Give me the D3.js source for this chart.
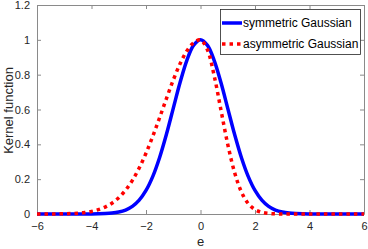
<!DOCTYPE html>
<html>
<head>
<meta charset="utf-8">
<script src="https://cdn.jsdelivr.net/npm/d3@7"></script>
<style>
  body { margin: 0; background: #fff; }
  svg { display: block; font-family: "Liberation Sans", Arial, sans-serif; }
</style>
</head>
<body>
<svg id="chart" width="368" height="249"></svg>
<script>
// kernel functions, e = -6 .. 6 in steps of 0.25
const eValues = d3.range(-6, 6.001, 0.25);

const symmetricGaussian = [
  0, 0, 0, 0, 0, 0, 0,
  0.0001, 0.0003, 0.0009, 0.0022, 0.0051, 0.0111, 0.0228, 0.0439, 0.0796,
  0.1353, 0.2163, 0.3247, 0.4578, 0.6065, 0.7548, 0.8825, 0.9692,
  1,
  0.9692, 0.8825, 0.7548, 0.6065, 0.4578, 0.3247, 0.2163, 0.1353,
  0.0796, 0.0439, 0.0228, 0.0111, 0.0051, 0.0022, 0.0009, 0.0003, 0.0001,
  0, 0, 0, 0, 0, 0, 0
];

const asymmetricGaussian = [
  0.0001, 0.0002, 0.0003, 0.0007, 0.0014, 0.0026, 0.0048, 0.0086, 0.0148, 0.0247,
  0.0398, 0.0620, 0.0936, 0.1367, 0.1931, 0.2639, 0.3490, 0.4467, 0.5532, 0.6629,
  0.7686, 0.8624, 0.9363, 0.9837,
  1,
  0.9444, 0.7953, 0.5974, 0.4001, 0.2390, 0.1273, 0.0605, 0.0256, 0.0097, 0.0033,
  0.0010, 0.0003, 0.0001,
  0, 0, 0, 0, 0, 0, 0, 0, 0, 0, 0
];

const xTicks = [-6, -4, -2, 0, 2, 4, 6];
const yTicks = [0, 0.2, 0.4, 0.6, 0.8, 1, 1.2];
const seriesNames = ["symmetric Gaussian", "asymmetric Gaussian"];

const margin = { top: 5, right: 4, bottom: 35, left: 37 };
const width = 368, height = 249;
const innerWidth = width - margin.left - margin.right;
const innerHeight = height - margin.top - margin.bottom;

const svg = d3.select("#chart");
const g = svg.append("g")
  .attr("transform", `translate(${margin.left},${margin.top})`);

const x = d3.scaleLinear().domain([-6, 6]).range([0, innerWidth]);
const y = d3.scaleLinear().domain([0, 1.2]).range([innerHeight, 0]);

const axisColor = "#8a8a8a";
const textColor = "#262626";

// axes (MATLAB style, ticks inside, box on)
function styleAxis(sel, showLabels) {
  sel.select(".domain").attr("stroke", axisColor).attr("stroke-width", 1);
  sel.selectAll(".tick line").attr("stroke", axisColor);
  if (showLabels) {
    sel.selectAll(".tick text")
      .attr("fill", textColor)
      .style("font-size", "11px");
  } else {
    sel.selectAll(".tick text").remove();
  }
}

g.append("g")
  .attr("transform", `translate(0,${innerHeight})`)
  .call(d3.axisBottom(x).tickValues(xTicks).tickSize(-4).tickPadding(8).tickSizeOuter(0))
  .call(s => styleAxis(s, true));

g.append("g")
  .call(d3.axisTop(x).tickValues(xTicks).tickSize(-4).tickSizeOuter(0))
  .call(s => styleAxis(s, false));

g.append("g")
  .call(d3.axisLeft(y).tickValues(yTicks).tickSize(-4).tickPadding(7).tickSizeOuter(0)
    .tickFormat(d3.format("~g")))
  .call(s => styleAxis(s, true));

g.append("g")
  .attr("transform", `translate(${innerWidth},0)`)
  .call(d3.axisRight(y).tickValues(yTicks).tickSize(-4).tickSizeOuter(0))
  .call(s => styleAxis(s, false));

// axis labels
svg.append("text")
  .attr("x", margin.left + innerWidth / 2)
  .attr("y", 246)
  .attr("text-anchor", "middle")
  .attr("fill", textColor)
  .style("font-size", "13px")
  .text("e");

svg.append("text")
  .attr("transform", `translate(13,${margin.top + innerHeight / 2 + 1}) rotate(-90)`)
  .attr("text-anchor", "middle")
  .attr("fill", textColor)
  .style("font-size", "13px")
  .text("Kernel function");

// curves
const line = d3.line()
  .x((d, i) => x(eValues[i]))
  .y(d => y(d))
  .curve(d3.curveCatmullRom);

const plot = g.append("g");

plot.append("path")
  .datum(symmetricGaussian)
  .attr("fill", "none")
  .attr("stroke", "#0000ff")
  .attr("stroke-width", 3.5)
  .attr("d", line);

plot.append("path")
  .datum(asymmetricGaussian)
  .attr("fill", "none")
  .attr("stroke", "#ff0000")
  .attr("stroke-width", 3.5)
  .attr("stroke-dasharray", "3.5,4")
  .attr("d", line);

// legend
const legend = svg.append("g").attr("transform", "translate(220,9)");
legend.append("rect")
  .attr("x", 0.5).attr("y", 0.5)
  .attr("width", 140).attr("height", 45)
  .attr("fill", "#fff")
  .attr("stroke", "#262626")
  .attr("stroke-width", 0.8);

const legendStyles = [
  { color: "#0000ff", dash: null },
  { color: "#ff0000", dash: "3.5,4" }
];

seriesNames.forEach((name, i) => {
  const ly = 14 + i * 21;
  legend.append("line")
    .attr("x1", 2).attr("x2", 22)
    .attr("y1", ly).attr("y2", ly)
    .attr("stroke", legendStyles[i].color)
    .attr("stroke-width", 3.5)
    .attr("stroke-dasharray", legendStyles[i].dash);
  legend.append("text")
    .attr("x", 23)
    .attr("y", ly + 4)
    .attr("fill", "#000")
    .style("font-size", "12px")
    .text(name);
});
</script>
</body>
</html>
